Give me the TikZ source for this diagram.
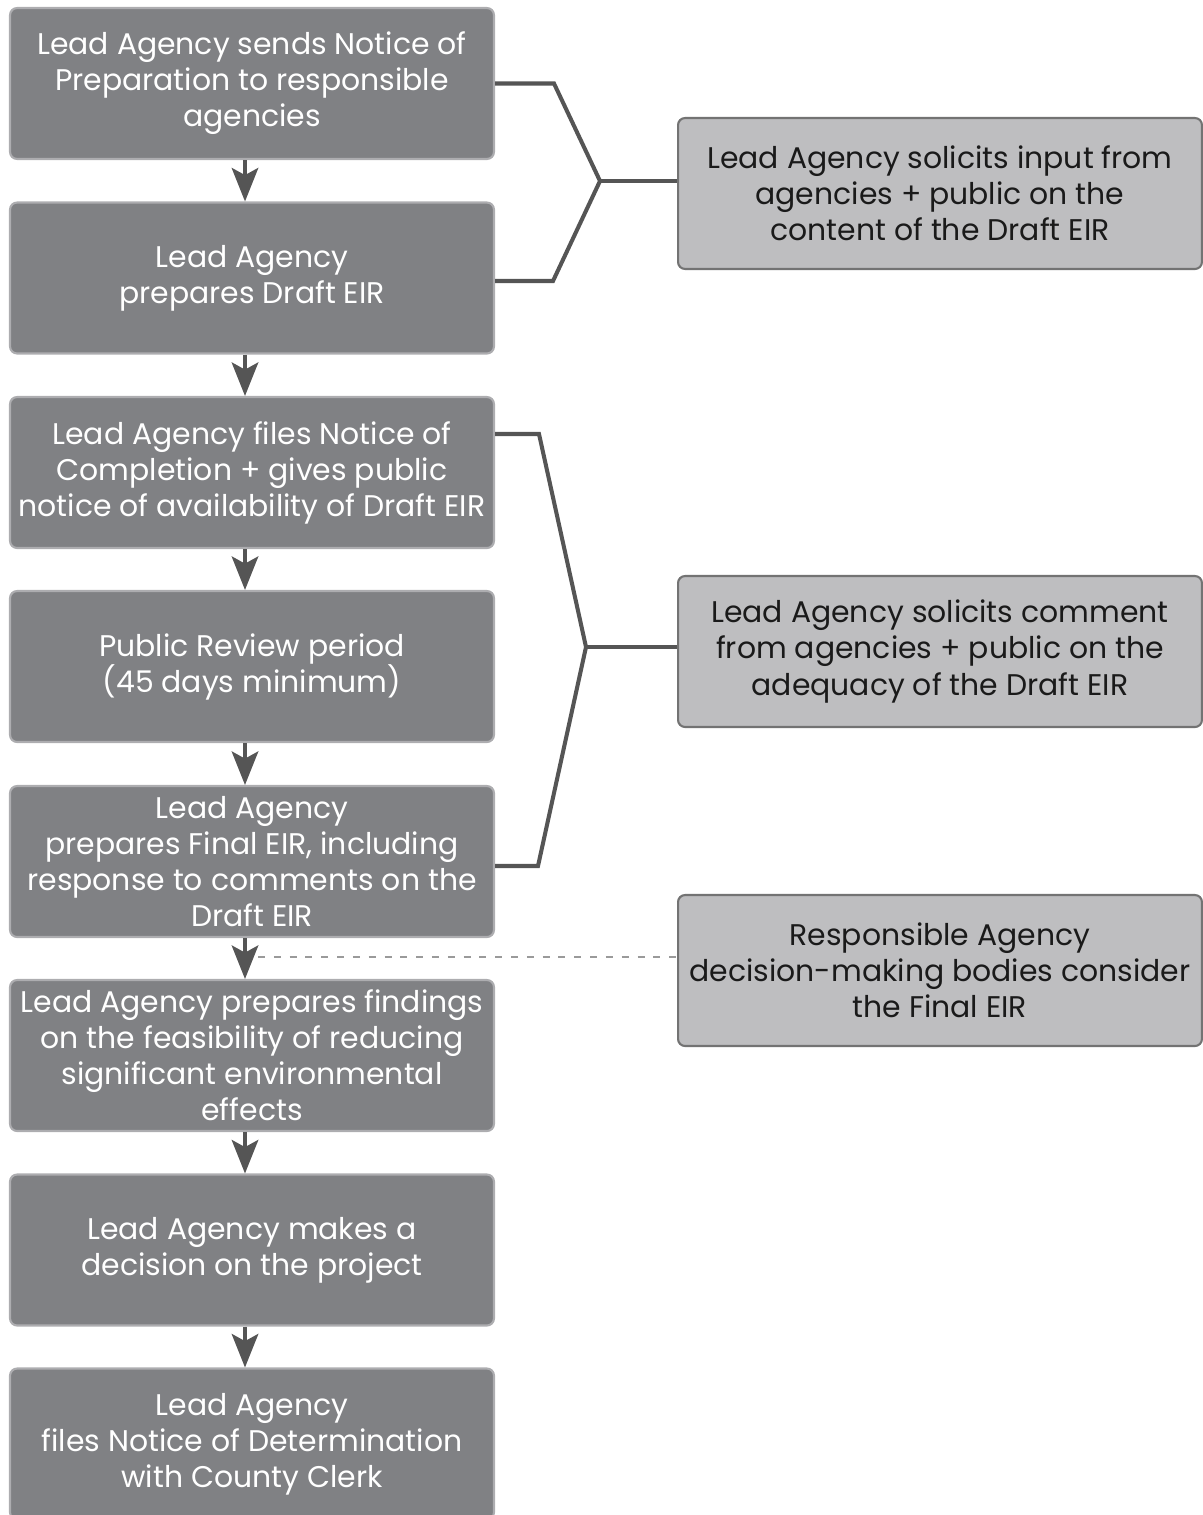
\documentclass[tikz,border=0pt]{standalone}
\usepackage{fontspec}
\setmainfont{Poppins}
\usetikzlibrary{arrows.meta}
\definecolor{stepfill}{HTML}{808184}
\definecolor{stepedge}{HTML}{ADADB0}
\definecolor{notefill}{HTML}{BEBEC0}
\definecolor{noteedge}{HTML}{737373}
\definecolor{notetext}{HTML}{1A1A1A}
\definecolor{linegray}{HTML}{555555}
\definecolor{dashgray}{HTML}{9A9A9A}
\begin{document}
\begin{tikzpicture}[x=0.02cm, y=-0.02cm, >={Stealth[length=19pt,width=15pt,inset=4pt]},
  stepbox/.style={draw=stepedge, fill=stepfill, rounded corners=4pt, line width=1.2pt, text=white,
    minimum width=9.68cm, minimum height=3.02cm, align=center, font=\fontsize{17}{20.5}\selectfont},
  notebox/.style={draw=noteedge, fill=notefill, rounded corners=4pt, line width=1.2pt, text=notetext,
    minimum width=10.48cm, minimum height=3.02cm, align=center, font=\fontsize{17}{20.5}\selectfont},
  flow/.style={->, line width=2.6pt, draw=linegray, fill=linegray},
  brace/.style={line width=2.3pt, draw=linegray}]
\useasboundingbox (0,0) rectangle (1203,1515);

\node[stepbox] (prep) at (252,83.5) {Lead Agency sends Notice of\\Preparation to responsible\\agencies};
\node[stepbox] (draft) at (252,278) {Lead Agency\\prepares Draft EIR};
\node[stepbox] (complete) at (252,472.5) {Lead Agency files Notice of\\Completion + gives public\\notice of availability of Draft EIR};
\node[stepbox] (review) at (252,666.5) {Public Review period\\(45 days minimum)};
\node[stepbox] (final) at (252,861.5) {Lead Agency\\prepares Final EIR, including\\response to comments on the\\Draft EIR};
\node[stepbox] (findings) at (252,1055.5) {Lead Agency prepares findings\\on the feasibility of reducing\\significant environmental\\effects};
\node[stepbox] (decision) at (252,1250) {Lead Agency makes a\\decision on the project};
\node[stepbox] (determination) at (252,1444) {Lead Agency\\files Notice of Determination\\with County Clerk};

\node[notebox] (input) at (940,193.5) {Lead Agency solicits input from\\agencies + public on the\\content of the Draft EIR};
\node[notebox] (comment) at (940,651.5) {Lead Agency solicits comment\\from agencies + public on the\\adequacy of the Draft EIR};
\node[notebox] (consider) at (940,970.5) {Responsible Agency\\decision-making bodies consider\\the Final EIR};

\draw[flow] ([xshift=-0.14cm]prep.south) -- ([xshift=-0.14cm]draft.north);
\draw[flow] ([xshift=-0.14cm]draft.south) -- ([xshift=-0.14cm]complete.north);
\draw[flow] ([xshift=-0.14cm]complete.south) -- ([xshift=-0.14cm]review.north);
\draw[flow] ([xshift=-0.14cm]review.south) -- ([xshift=-0.14cm]final.north);
\draw[flow] ([xshift=-0.14cm]final.south) -- ([xshift=-0.14cm]findings.north);
\draw[flow] ([xshift=-0.14cm]findings.south) -- ([xshift=-0.14cm]decision.north);
\draw[flow] ([xshift=-0.14cm]decision.south) -- ([xshift=-0.14cm]determination.north);

% brackets to the side boxes
\coordinate (j1) at (600,181);
\draw[brace] (prep.east) -- ++(59,0) -- (j1) -- ([yshift=-0.06cm]draft.east -| 553,0) -- ([yshift=-0.06cm]draft.east);
\draw[brace] (j1) -- (j1 -| input.west);
\coordinate (j2) at (586,647);
\draw[brace] ([yshift=0.77cm]complete.east) -- ++(44,0) -- (j2) -- ([yshift=-0.09cm]final.east -| 538,0) -- ([yshift=-0.09cm]final.east);
\draw[brace] (j2) -- (j2 -| comment.west);

\coordinate (d1) at (258,957);
\draw[dashgray, line width=1.3pt, dash pattern=on 4pt off 5pt] (d1) -- (d1 -| consider.west);
\end{tikzpicture}
\end{document}
